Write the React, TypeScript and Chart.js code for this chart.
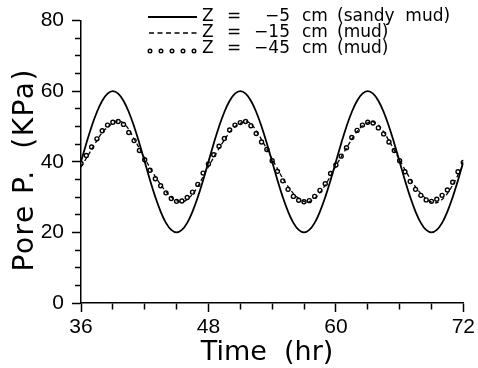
import { useEffect, useRef } from 'react';
import { Chart, registerables } from 'chart.js';

Chart.register(...registerables);

// Time (hr)
const TIMES = [
  36, 36.5, 37, 37.5, 38, 38.5, 39, 39.5, 40, 40.5, 41, 41.5, 42, 42.5, 43, 43.5, 44, 44.5, 45, 45.5, 46, 46.5, 47, 47.5,
  48, 48.5, 49, 49.5, 50, 50.5, 51, 51.5, 52, 52.5, 53, 53.5, 54, 54.5, 55, 55.5, 56, 56.5, 57, 57.5, 58, 58.5, 59, 59.5,
  60, 60.5, 61, 61.5, 62, 62.5, 63, 63.5, 64, 64.5, 65, 65.5, 66, 66.5, 67, 67.5, 68, 68.5, 69, 69.5, 70, 70.5, 71, 71.5,
  72,
];

// Z = -5 cm (sandy mud)
const SERIES_5 = [
  40, 45.2, 50, 54.1, 57.3, 59.3, 60, 59.3, 57.3, 54.1, 50, 45.2, 40, 34.8, 30, 25.9, 22.7, 20.7, 20, 20.7, 22.7, 25.9, 30, 34.8,
  40, 45.2, 50, 54.1, 57.3, 59.3, 60, 59.3, 57.3, 54.1, 50, 45.2, 40, 34.8, 30, 25.9, 22.7, 20.7, 20, 20.7, 22.7, 25.9, 30, 34.8,
  40, 45.2, 50, 54.1, 57.3, 59.3, 60, 59.3, 57.3, 54.1, 50, 45.2, 40, 34.8, 30, 25.9, 22.7, 20.7, 20, 20.7, 22.7, 25.9, 30, 34.8,
  40,
];

// Z = -15 cm (mud)
const SERIES_15 = [
  38.5, 41.0, 43.5, 46.0, 48.3, 49.8, 50.9, 51.6, 51.0, 49.2, 46.5, 43.8, 41.0, 38.3, 35.8, 33.5, 31.6, 30.0, 29.0, 28.6, 29.3, 30.8, 33.0, 35.8,
  38.6, 41.3, 43.8, 46.2, 48.4, 50.0, 50.9, 51.5, 50.8, 48.8, 46.3, 43.6, 40.8, 38.0, 35.3, 33.0, 31.0, 29.6, 28.8, 28.7, 29.6, 31.2, 33.4, 36.0,
  38.8, 41.4, 43.9, 46.4, 48.6, 50.2, 51.0, 51.3, 50.4, 48.5, 46.0, 43.3, 40.6, 37.8, 35.2, 32.9, 31.0, 29.5, 28.6, 28.4, 29.3, 31.0, 33.4, 36.3,
  39.2,
];

// Z = -45 cm (mud)
const SERIES_45 = [
  39.5, 41.8, 44.2, 46.5, 48.8, 50.4, 51.2, 51.4, 50.6, 48.3, 46.0, 43.2, 40.6, 37.6, 35.2, 33.2, 31.2, 29.6, 28.8, 28.9, 29.9, 31.4, 33.6, 36.8,
  39.4, 42.0, 44.4, 46.6, 49.0, 50.4, 51.1, 51.4, 50.2, 48.0, 45.6, 43.5, 40.3, 37.3, 34.6, 32.2, 30.2, 29.1, 28.7, 29.0, 30.2, 31.9, 33.8, 36.7,
  39.1, 41.6, 44.0, 46.9, 48.9, 50.4, 51.2, 51.0, 49.6, 47.9, 45.6, 43.2, 40.3, 37.2, 34.4, 32.2, 30.5, 29.2, 28.8, 29.4, 30.5, 32.0, 34.2, 37.2,
  39.8,
];

const X_MAJOR_TICKS = [36, 48, 60, 72];
const Y_MAJOR_TICKS = [0, 20, 40, 60, 80];

const LEGEND_DEPTHS = ['\u22125', '\u221215', '\u221245'];
const LEGEND_SOILS = ['(sandy  mud)', '(mud)', '(mud)'];

const X_TITLE = 'Time  (hr)';
const Y_TITLE = 'Pore P.  (KPa)';

const legendPlugin = {
  id: 'customLegend',
  afterDraw(chart: any) {
    const ctx = chart.ctx as CanvasRenderingContext2D;
    ctx.save();
    ctx.fillStyle = '#000';
    ctx.strokeStyle = '#000';
    ctx.font = '17px "DejaVu Sans"';
    ctx.textBaseline = 'alphabetic';
    const baselines = [20.5, 36.5, 53];
    const sampleY = [17, 33, 51];
    for (let i = 0; i < 3; i++) {
      const b = baselines[i];
      // sample
      ctx.lineWidth = i === 0 ? 1.8 : 1.4;
      if (i === 0) {
        ctx.setLineDash([]);
        ctx.beginPath();
        ctx.moveTo(148, sampleY[i]);
        ctx.lineTo(197, sampleY[i]);
        ctx.stroke();
      } else if (i === 1) {
        ctx.setLineDash([5, 3.5]);
        ctx.beginPath();
        ctx.moveTo(149, sampleY[i]);
        ctx.lineTo(198, sampleY[i]);
        ctx.stroke();
        ctx.setLineDash([]);
      } else {
        ctx.lineWidth = 1.4;
        for (let k = 0; k < 5; k++) {
          ctx.beginPath();
          ctx.arc(150 + k * 11, sampleY[i], 1.8, 0, Math.PI * 2);
          ctx.stroke();
        }
      }
      ctx.textAlign = 'left';
      ctx.fillText('Z', 202, b);
      ctx.fillText('=', 227, b);
      ctx.textAlign = 'right';
      ctx.fillText(LEGEND_DEPTHS[i], 290, b);
      ctx.textAlign = 'left';
      ctx.fillText('cm', 302, b);
      ctx.fillText(LEGEND_SOILS[i], 337, b);
    }
    ctx.restore();
  },
};

const titlePlugin = {
  id: 'axisTitles',
  afterDraw(chart: any) {
    const ctx = chart.ctx as CanvasRenderingContext2D;
    const area = chart.chartArea;
    ctx.save();
    ctx.fillStyle = '#000';
    ctx.textBaseline = 'alphabetic';
    ctx.textAlign = 'center';
    ctx.font = '27px "DejaVu Sans"';
    ctx.fillText(X_TITLE, 267, 360);
    ctx.translate(33, (area.top + area.bottom) / 2 + 8);
    ctx.rotate(-Math.PI / 2);
    ctx.font = '28px "DejaVu Sans"';
    (ctx as any).letterSpacing = '1.5px';
    ctx.fillText(Y_TITLE, 0, 0);
    ctx.restore();
  },
};

export default function App() {
  const ref = useRef<HTMLCanvasElement>(null);
  useEffect(() => {
    const canvas = ref.current;
    if (!canvas) return;
    const toPts = (ys: number[]) => TIMES.map((t, i) => ({ x: t, y: ys[i] }));
    const chart = new Chart(canvas, {
      type: 'line',
      data: {
        datasets: [
          {
            label: 'Z = -5 cm (sandy mud)',
            data: toPts(SERIES_5),
            borderColor: '#000',
            borderWidth: 1.8,
            pointRadius: 0,
            tension: 0.4,
          },
          {
            label: 'Z = -15 cm (mud)',
            data: toPts(SERIES_15),
            borderColor: '#000',
            borderWidth: 1.3,
            borderDash: [4, 3],
            pointRadius: 0,
            tension: 0.3,
          },
          {
            label: 'Z = -45 cm (mud)',
            data: toPts(SERIES_45),
            borderColor: '#000',
            showLine: false,
            pointRadius: 2,
            pointBorderWidth: 1.4,
            pointBackgroundColor: 'rgba(0,0,0,0)',
            pointBorderColor: '#000',
          },
        ],
      },
      options: {
        responsive: false,
        animation: false,
        layout: { padding: { top: 17, right: 13, left: 0, bottom: 0 } },
        plugins: { legend: { display: false }, tooltip: { enabled: false } },
        scales: {
          x: {
            type: 'linear',
            min: 36,
            max: 72,
            afterFit: (s: any) => {
              s.height = 65;
            },
            ticks: {
              stepSize: 3,
              autoSkip: false,
              maxRotation: 0,
              padding: 3,
              color: '#000',
              font: { family: '"Liberation Sans"', size: 21 },
              callback: (v: any) => (X_MAJOR_TICKS.includes(Number(v)) ? String(v) : ''),
            },
            grid: {
              drawOnChartArea: false,
              drawTicks: true,
              tickLength: 9,
              tickColor: '#000',
              tickWidth: 1.5,
              tickBorderDash: (c: any) =>
                c.tick && X_MAJOR_TICKS.includes(c.tick.value) ? [] : [6, 100],
            },
            border: { display: true, color: '#000', width: 1.5 },
          },
          y: {
            min: 0,
            max: 80,
            afterFit: (s: any) => {
              s.width = 81;
            },
            ticks: {
              stepSize: 5,
              autoSkip: false,
              padding: 8,
              color: '#000',
              font: { family: '"Liberation Sans"', size: 21 },
              callback: (v: any) => (Y_MAJOR_TICKS.includes(Number(v)) ? String(v) : ''),
            },
            grid: {
              drawOnChartArea: false,
              drawTicks: true,
              tickLength: 9,
              tickColor: '#000',
              tickWidth: 1.5,
              tickBorderDash: (c: any) =>
                c.tick && Y_MAJOR_TICKS.includes(c.tick.value) ? [] : [0, 3, 6, 100],
            },
            border: { display: true, color: '#000', width: 1.5 },
          },
        },
      },
      plugins: [legendPlugin, titlePlugin],
    });
    return () => chart.destroy();
  }, []);
  return (
    <div style={{ position: 'fixed', left: 0, top: 0, width: 478, height: 368, background: '#fff' }}>
      <canvas ref={ref} width={478} height={368} style={{ display: 'block' }} />
    </div>
  );
}
